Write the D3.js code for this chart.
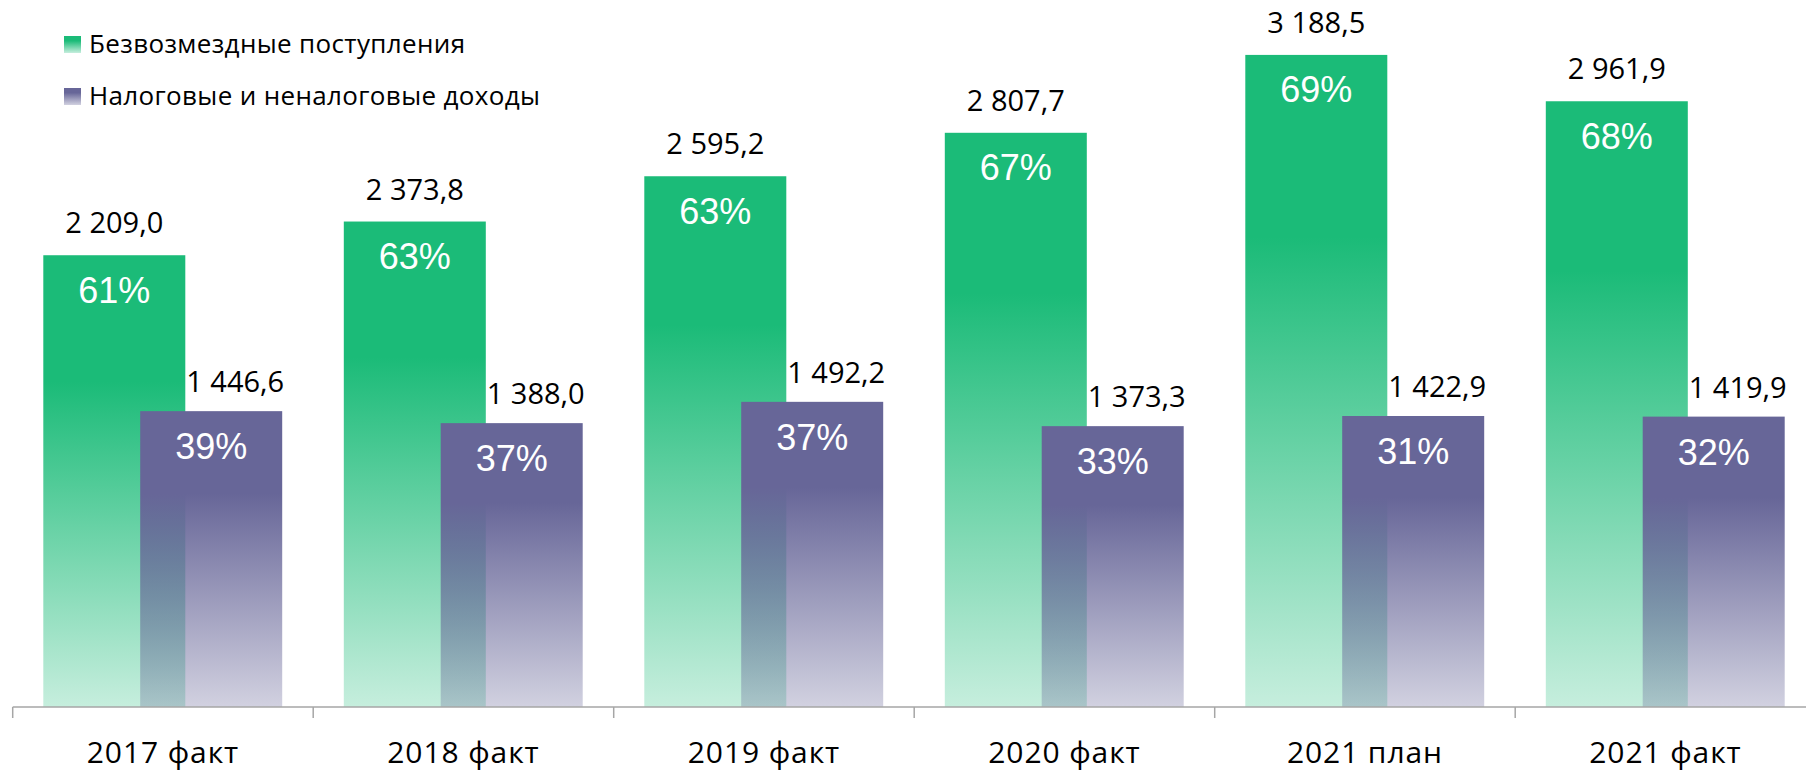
<!DOCTYPE html>
<html>
<head>
<meta charset="utf-8">
<script src="https://cdn.jsdelivr.net/npm/d3@7"></script>
<style>
  body { margin: 0; background: #fff; }
  svg { display: block; }
</style>
</head>
<body>
<div id="chart"></div>
<script>
// data
var categories = ["2017 факт", "2018 факт", "2019 факт", "2020 факт", "2021 план", "2021 факт"];
var grants = [2209.0, 2373.8, 2595.2, 2807.7, 3188.5, 2961.9];      // Безвозмездные поступления
var taxes = [1446.6, 1388.0, 1492.2, 1373.3, 1422.9, 1419.9];       // Налоговые и неналоговые доходы
var grantsPct = [61, 63, 63, 67, 69, 68];
var taxesPct = [39, 37, 37, 33, 31, 32];
var seriesNames = ["Безвозмездные поступления", "Налоговые и неналоговые доходы"];

var width = 1806, height = 772;
var green = "#1bbb78", purple = "#676698";

var svg = d3.select("#chart").append("svg")
    .attr("width", width)
    .attr("height", height);

// gradients: solid on top, fading out to the bottom
var defs = svg.append("defs");
function grad(id, color, endOpacity) {
    var g = defs.append("linearGradient")
        .attr("id", id)
        .attr("x1", 0).attr("y1", 0).attr("x2", 0).attr("y2", 1);
    g.append("stop").attr("offset", 0).attr("stop-color", color).attr("stop-opacity", 1);
    g.append("stop").attr("offset", 0.28).attr("stop-color", color).attr("stop-opacity", 1);
    g.append("stop").attr("offset", 1).attr("stop-color", color).attr("stop-opacity", endOpacity);
}
grad("gGreen", green, 0.25);
grad("gPurple", purple, 0.3);

var x = d3.scaleBand().domain(categories).range([12.7, 1815.7]).padding(0);
var y = d3.scaleLinear().domain([0, 3457]).range([707, 0]);

var ru = d3.formatLocale({decimal: ",", thousands: " ", grouping: [3], currency: ["", ""]});
var fmt = ru.format(",.1f");

var barW = 142;
var greenOff = 30.6, purpleOff = 127.5;

var data = categories.map(function (c, i) {
    return {cat: c, g: grants[i], t: taxes[i], gp: grantsPct[i], tp: taxesPct[i]};
});

var group = svg.selectAll(".cat")
    .data(data)
    .enter()
    .append("g")
    .attr("class", "cat")
    .attr("transform", function (d) { return "translate(" + x(d.cat) + ",0)"; });

// green bars
group.append("rect")
    .attr("x", greenOff)
    .attr("y", function (d) { return y(d.g); })
    .attr("width", barW)
    .attr("height", function (d) { return y(0) - y(d.g); })
    .attr("fill", "url(#gGreen)");

// purple bars (overlap the green ones)
group.append("rect")
    .attr("x", purpleOff)
    .attr("y", function (d) { return y(d.t); })
    .attr("width", barW)
    .attr("height", function (d) { return y(0) - y(d.t); })
    .attr("fill", "url(#gPurple)");

// value labels
group.append("text")
    .attr("x", greenOff + barW / 2)
    .attr("y", function (d) { return y(d.g) - 22; })
    .attr("text-anchor", "middle")
    .style("font-family", "'Open Sans', sans-serif")
    .style("font-size", "29px")
    .attr("fill", "#000")
    .text(function (d) { return fmt(d.g); });

group.append("text")
    .attr("x", purpleOff + barW / 2 + 24)
    .attr("y", function (d) { return y(d.t) - 19; })
    .attr("text-anchor", "middle")
    .style("font-family", "'Open Sans', sans-serif")
    .style("font-size", "29px")
    .attr("fill", "#000")
    .text(function (d) { return fmt(d.t); });

// percentage labels inside the bars
group.append("text")
    .attr("x", greenOff + barW / 2)
    .attr("y", function (d) { return y(d.g) + 47.5; })
    .attr("text-anchor", "middle")
    .style("font-family", "'Liberation Sans', Arial, sans-serif")
    .style("font-size", "36px")
    .attr("fill", "#fff")
    .text(function (d) { return d.gp + "%"; });

group.append("text")
    .attr("x", purpleOff + barW / 2)
    .attr("y", function (d) { return y(d.t) + 48; })
    .attr("text-anchor", "middle")
    .style("font-family", "'Liberation Sans', Arial, sans-serif")
    .style("font-size", "36px")
    .attr("fill", "#fff")
    .text(function (d) { return d.tp + "%"; });

// x axis: line, ticks between categories, labels
var axis = svg.append("g");
axis.append("line")
    .attr("x1", x.range()[0]).attr("x2", x.range()[1])
    .attr("y1", y(0)).attr("y2", y(0))
    .attr("stroke", "#a6a6a6")
    .attr("stroke-width", 1.5);

var tickPos = categories.map(function (c) { return x(c); }).concat([x.range()[1]]);
axis.selectAll(".tick")
    .data(tickPos)
    .enter()
    .append("line")
    .attr("class", "tick")
    .attr("x1", function (d) { return d; }).attr("x2", function (d) { return d; })
    .attr("y1", y(0)).attr("y2", y(0) + 11)
    .attr("stroke", "#a6a6a6")
    .attr("stroke-width", 1.5);

axis.selectAll(".lab")
    .data(categories)
    .enter()
    .append("text")
    .attr("class", "lab")
    .attr("x", function (d) { return x(d) + x.bandwidth() / 2; })
    .attr("y", 763)
    .attr("text-anchor", "middle")
    .style("font-family", "'Open Sans', sans-serif")
    .style("font-size", "30px")
    .style("letter-spacing", "0.9px")
    .attr("fill", "#000")
    .text(function (d) { return d; });

// legend
var legend = svg.selectAll(".leg")
    .data(seriesNames)
    .enter()
    .append("g")
    .attr("class", "leg")
    .attr("transform", function (d, i) { return "translate(64," + (36 + i * 52) + ")"; });

legend.append("rect")
    .attr("width", 17)
    .attr("height", 17)
    .attr("fill", function (d, i) { return i === 0 ? "url(#gGreen)" : "url(#gPurple)"; });

legend.append("text")
    .attr("x", 25)
    .attr("y", 16.5)
    .style("font-family", "'Open Sans', sans-serif")
    .style("font-size", "26px")
    .style("letter-spacing", "0.35px")
    .attr("fill", "#000")
    .text(function (d) { return d; });
</script>
</body>
</html>
